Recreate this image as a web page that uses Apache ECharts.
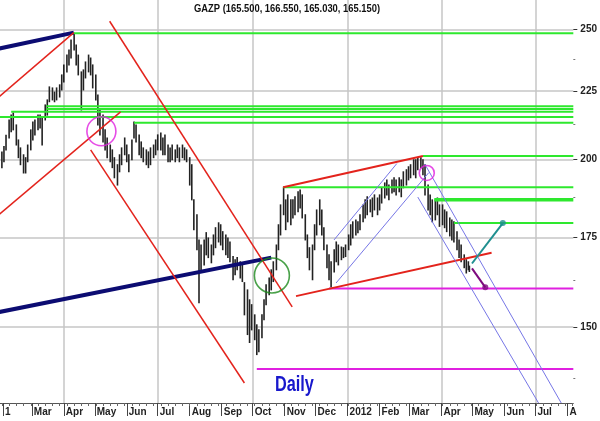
<!DOCTYPE html>
<html><head><meta charset="utf-8">
<script src="https://cdn.jsdelivr.net/npm/echarts@6/dist/echarts.min.js"></script>
<style>html,body{margin:0;padding:0;background:#fff}#c{width:600px;height:421px}</style>
</head><body><div id="c"></div>
<script>
// ---------------- DATA ----------------
const chartTitle = 'GAZP (165.500, 166.550, 165.030, 165.150)';
const chartNote = 'Daily';

const dates = [
'2011-01-31','2011-02-02','2011-02-04','2011-02-07','2011-02-09','2011-02-11','2011-02-14','2011-02-16','2011-02-18','2011-02-21',
'2011-02-23','2011-02-25','2011-02-28','2011-03-02','2011-03-04','2011-03-07','2011-03-09','2011-03-11','2011-03-14','2011-03-16',
'2011-03-18','2011-03-21','2011-03-23','2011-03-25','2011-03-28','2011-03-30','2011-04-01','2011-04-04','2011-04-06','2011-04-08',
'2011-04-11','2011-04-13','2011-04-15','2011-04-18','2011-04-20','2011-04-22','2011-04-25','2011-04-27','2011-04-29','2011-05-02',
'2011-05-04','2011-05-06','2011-05-09','2011-05-11','2011-05-13','2011-05-16','2011-05-18','2011-05-20','2011-05-23','2011-05-25',
'2011-05-27','2011-05-30','2011-06-01','2011-06-03','2011-06-06','2011-06-08','2011-06-10','2011-06-13','2011-06-15','2011-06-17',
'2011-06-20','2011-06-22','2011-06-24','2011-06-27','2011-06-29','2011-07-01','2011-07-04','2011-07-06','2011-07-08','2011-07-11',
'2011-07-13','2011-07-15','2011-07-18','2011-07-20','2011-07-22','2011-07-25','2011-07-27','2011-07-29','2011-08-01','2011-08-03',
'2011-08-05','2011-08-08','2011-08-10','2011-08-12','2011-08-15','2011-08-17','2011-08-19','2011-08-22','2011-08-24','2011-08-26',
'2011-08-29','2011-08-31','2011-09-02','2011-09-05','2011-09-07','2011-09-09','2011-09-12','2011-09-14','2011-09-16','2011-09-19',
'2011-09-21','2011-09-23','2011-09-26','2011-09-28','2011-09-30','2011-10-03','2011-10-05','2011-10-07','2011-10-10','2011-10-12',
'2011-10-14','2011-10-17','2011-10-19','2011-10-21','2011-10-24','2011-10-26','2011-10-28','2011-10-31','2011-11-02','2011-11-04',
'2011-11-07','2011-11-09','2011-11-11','2011-11-14','2011-11-16','2011-11-18','2011-11-21','2011-11-23','2011-11-25','2011-11-28',
'2011-11-30','2011-12-02','2011-12-05','2011-12-07','2011-12-09','2011-12-12','2011-12-14','2011-12-16','2011-12-19','2011-12-21',
'2011-12-23','2011-12-26','2011-12-28','2011-12-30','2012-01-02','2012-01-04','2012-01-06','2012-01-09','2012-01-11','2012-01-13',
'2012-01-16','2012-01-18','2012-01-20','2012-01-23','2012-01-25','2012-01-27','2012-01-30','2012-02-01','2012-02-03','2012-02-06',
'2012-02-08','2012-02-10','2012-02-13','2012-02-15','2012-02-17','2012-02-20','2012-02-22','2012-02-24','2012-02-27','2012-02-29',
'2012-03-02','2012-03-05','2012-03-07','2012-03-09','2012-03-12','2012-03-14','2012-03-16','2012-03-19','2012-03-21','2012-03-23',
'2012-03-26','2012-03-28','2012-03-30','2012-04-02','2012-04-04','2012-04-06','2012-04-09','2012-04-11','2012-04-13','2012-04-16',
'2012-04-18','2012-04-20','2012-04-23','2012-04-25','2012-04-27','2012-04-28'
];
const highs = [
202.6,204.5,208.5,214.0,215.8,216.6,212.2,206.8,204.0,201.6,
200.6,205.0,210.4,213.3,214.0,215.8,215.8,214.7,219.6,221.5,
226.5,226.1,224.5,226.1,227.3,231.2,235.2,239.2,241.3,245.5,
248.3,243.4,239.2,232.4,233.2,236.4,239.2,238.0,235.2,231.2,
223.4,217.7,215.8,210.4,207.5,205.0,203.3,200.6,198.2,201.6,
204.0,207.5,205.0,201.6,206.8,213.3,212.2,208.6,206.1,204.0,
203.3,202.6,204.0,205.0,206.8,208.6,209.3,207.5,208.6,205.0,
204.0,205.0,203.3,205.0,204.0,205.0,204.0,203.3,200.6,198.2,
186.6,181.9,174.2,172.7,174.2,176.4,174.8,172.7,175.7,177.9,
179.4,178.8,176.7,175.7,174.8,173.6,169.3,168.4,169.0,167.8,
166.9,161.9,159.9,157.2,155.9,153.2,150.6,149.3,153.2,157.2,
161.3,163.2,165.5,167.8,172.7,178.8,185.0,190.7,186.6,188.2,
186.6,186.6,187.6,189.2,189.8,188.2,181.9,175.7,171.9,172.7,
178.8,183.4,186.6,183.4,177.9,172.7,169.8,167.8,171.3,173.6,
172.7,172.1,171.9,172.7,175.7,178.8,179.7,180.3,179.7,181.9,
185.0,186.6,187.6,186.6,187.2,188.2,187.2,188.2,190.5,192.1,
193.1,191.4,193.1,193.8,193.1,193.8,193.1,195.8,196.5,197.5,
198.2,199.9,199.9,200.6,200.6,199.9,198.2,191.4,188.2,186.6,
186.6,187.2,185.0,185.0,183.4,182.8,180.9,180.3,179.7,176.7,
174.2,172.7,169.8,168.4,167.8,166.55
];
const lows = [
197.2,199.2,203.3,207.5,209.7,210.4,205.0,200.6,198.2,195.4,
195.4,199.2,203.3,206.8,208.6,210.4,211.1,205.0,214.0,215.8,
220.8,221.5,220.8,221.5,222.6,225.3,228.4,232.4,235.2,238.0,
241.3,235.2,231.2,217.7,225.3,230.0,232.4,231.2,226.1,221.5,
212.2,208.6,206.1,203.3,200.6,199.2,197.2,193.8,191.4,195.8,
198.2,201.6,199.2,195.8,199.9,207.5,206.1,201.6,200.6,199.2,
198.2,197.2,198.2,200.6,201.6,203.3,203.3,201.6,201.6,199.2,
199.2,199.9,199.2,200.6,199.2,200.6,199.9,199.2,191.4,186.6,
177.3,171.3,156.4,165.5,166.9,169.8,169.0,167.5,169.8,171.9,
173.6,172.7,171.3,169.8,169.0,167.8,162.7,164.1,165.5,163.2,
162.2,153.2,148.1,146.1,149.3,146.8,143.1,143.8,147.3,151.9,
155.9,158.6,159.9,162.2,165.5,171.3,175.7,181.9,177.3,179.7,
178.8,180.9,181.9,182.8,184.0,180.9,174.2,169.0,165.5,162.7,
171.3,175.7,178.8,175.7,171.3,166.1,162.7,160.7,164.9,167.8,
166.9,168.4,169.0,169.3,171.3,172.7,174.8,175.7,176.4,177.3,
179.7,180.9,181.9,182.8,181.3,183.4,181.9,183.4,185.6,187.2,
188.2,186.6,188.8,189.2,188.2,189.2,187.6,190.5,191.4,193.1,
193.8,194.8,193.8,196.5,197.2,194.8,188.2,183.4,181.9,179.7,
180.3,181.9,178.3,178.8,177.9,176.7,175.4,174.2,173.6,171.3,
169.0,167.8,166.1,164.6,165.5,165.03
];

// axis ticks and labels
const xRange = ['2011-01-29 04:00', '2012-08-06 17:00'];
const yRange = [131.7, 262.9];
const yTicks = [150, 175, 200, 225, 250];
const yMinorTicks = [137.5, 162.5, 187.5, 212.5, 237.5];
const monthTicks = ['2011-02-01','2011-03-01','2011-04-01','2011-05-01','2011-06-01','2011-07-01','2011-08-01','2011-09-01',
  '2011-10-01','2011-11-01','2011-12-01','2012-01-01','2012-02-01','2012-03-01','2012-04-01','2012-05-01','2012-06-01',
  '2012-07-01','2012-08-01'];
const monthLabels = ['1','Mar','Apr','May','Jun','Jul','Aug','Sep','Oct','Nov','Dec','2012','Feb','Mar','Apr','May','Jun','Jul','A'];
const gridTicks = ['2011-04-01','2011-07-01','2011-10-01','2012-01-01','2012-04-01','2012-07-01'];
const firstWeekTick = '2011-01-31';

// horizontal levels
const greenLevels = [248.3, 219.1, 218.1, 217.0, 215.1, 213.0, 201.2, 190.7, 186.6, 179.3];
const greenStarts = ['2011-04-10 16:00','2011-03-15','2011-03-15','2011-02-09','2011-01-29','2011-06-08','2012-03-14','2011-10-30 14:00','2012-03-25','2012-04-13'];
const magentaLevels = [160.3, 139.6];
const magentaStarts = ['2011-12-14', '2011-10-05'];

// trend lines: [startDate, startPrice, endDate, endPrice]
const navyLines = [
  ['2010-12-31', 239.3, '2011-04-10 16:00', 248.6],
  ['2010-12-31', 152.4, '2011-10-19', 169.0]
];
const redLines = [
  ['2010-12-31', 213.3, '2011-04-10 16:00', 248.6],
  ['2010-12-31', 174.4, '2011-05-26', 217.0],
  ['2011-05-15 10:00', 253.5, '2011-11-08 07:00', 155.3],
  ['2011-04-27', 203.3, '2011-09-23', 136.3],
  ['2011-10-30 14:00', 190.7, '2012-03-14', 201.2],
  ['2011-11-12', 158.2, '2012-05-19 12:00', 170.4]
];
const blueLines = [
  ['2011-12-18 20:00', 174.2, '2012-02-17 17:00', 198.6],
  ['2011-12-20 20:00', 161.8, '2012-03-19 14:00', 195.5],
  ['2012-03-09', 187.5, '2012-07-04', 131.7],
  ['2012-03-15 19:00', 198.4, '2012-07-26', 131.7]
];
const upProjection = ['2012-04-30 12:00', 167.3, '2012-05-30 10:00', 179.3];
const downProjection = ['2012-04-30 12:00', 165.9, '2012-05-13 10:00', 160.6];

// highlight circles: centre date, centre price
const circleDates = ['2011-05-07 10:00', '2012-03-17 17:00', '2011-10-19 15:00'];
const circlePrices = [209.9, 195.4, 163.9];

// ---------------- BUILD ----------------
const T = s => +echarts.time.parse(s);
const L = p => Math.log(p);
const xMin = T(xRange[0]), xMax = T(xRange[1]);
const FONT = "'Liberation Sans',Arial,sans-serif";

const weekTicks = [];
for (let t = T(firstWeekTick); t <= xMax; t += 7 * 86400000) weekTicks.push(t);
const monthVals = monthTicks.map(T);

function seg(l) { return [[T(l[0]), L(l[1])], [T(l[2]), L(l[3])]]; }
function lineSeries(data, color, width, z) {
  return { type: 'line', data: data, showSymbol: false, symbol: 'none', silent: true, z: z || 3,
    lineStyle: { color: color, width: width }, animation: false };
}

const series = [];
series.push({
  type: 'custom', silent: true, z: 2, animation: false,
  data: dates.map((d, i) => [T(d), L(lows[i]), L(highs[i])]),
  encode: { x: 0, y: [1, 2] },
  renderItem: function (params, api) {
    const a = api.coord([api.value(0), api.value(1)]);
    const b = api.coord([api.value(0), api.value(2)]);
    return { type: 'line', shape: { x1: a[0], y1: a[1] + 0.5, x2: b[0], y2: b[1] - 0.5 },
      style: { stroke: '#222222', lineWidth: 1.6 } };
  }
});
greenLevels.forEach((p, i) => {
  series.push(lineSeries([[T(greenStarts[i]), L(p)], [xMax, L(p)]], '#2ee82e', p === 186.6 ? 3.5 : 2, 4));
});
magentaLevels.forEach((p, i) => {
  series.push(lineSeries([[T(magentaStarts[i]), L(p)], [xMax, L(p)]], '#e020e0', 2, 4));
});
navyLines.forEach(l => series.push(lineSeries(seg(l), '#0c0c72', 4, 5)));
redLines.forEach((l, i) => series.push(lineSeries(seg(l), '#e3231c', i >= 4 ? 2 : 1.5, 5)));
blueLines.forEach(l => series.push(lineSeries(seg(l), '#7676e6', 1, 5)));
series.push(lineSeries(seg(upProjection), '#1f8f8f', 2, 6));
series.push(lineSeries(seg(downProjection), '#7d0a7d', 2, 6));
series.push({ type: 'scatter', silent: true, z: 7, animation: false, symbol: 'circle', symbolSize: 6,
  data: [[T(upProjection[2]), L(upProjection[3])]], itemStyle: { color: '#1f8f8f' } });
series.push({ type: 'scatter', silent: true, z: 7, animation: false, symbol: 'circle', symbolSize: 6,
  data: [[T(downProjection[2]), L(downProjection[3])]], itemStyle: { color: '#7d0a7d' } });
const circleStyles = [
  { size: 29, color: '#e020e0' },
  { size: 15, color: '#e020e0' },
  { size: 35, color: '#1c8a1c' }
];
circleDates.forEach((d, i) => {
  series.push({ type: 'scatter', silent: true, z: 7, animation: false, symbol: 'circle',
    symbolSize: circleStyles[i].size, data: [[T(d), L(circlePrices[i])]],
    itemStyle: { color: 'rgba(0,0,0,0)', borderColor: circleStyles[i].color, borderWidth: 1.6 } });
});

const baseX = { type: 'value', min: xMin, max: xMax, position: 'bottom' };
const baseY = { type: 'value', min: L(yRange[0]), max: L(yRange[1]), position: 'right' };

const option = {
  animation: false,
  backgroundColor: '#ffffff',
  grid: { left: 0, right: 25, top: 0, bottom: 18, containLabel: false },
  graphic: [
    { type: 'text', x: 194, y: 3, scaleX: 0.815, silent: true, z: 10,
      style: { text: chartTitle, fontFamily: FONT, fontSize: 11.5, fontWeight: 'bold', fill: '#111',
        textVerticalAlign: 'top', verticalAlign: 'top' } },
    { type: 'text', x: 275, y: 374, scaleX: 0.74, silent: true, z: 10,
      style: { text: chartNote, fontFamily: FONT, fontSize: 22, fontWeight: 'bold', fill: '#1818cc',
        textVerticalAlign: 'top', verticalAlign: 'top' } }
  ],
  xAxis: [
    Object.assign({}, baseX, {
      axisLine: { show: true, lineStyle: { color: '#555', width: 1 } },
      axisTick: { show: false, customValues: gridTicks.map(T) },
      axisLabel: { show: false },
      splitLine: { show: true, lineStyle: { color: '#c6c6c6', width: 1.5 } }
    }),
    Object.assign({}, baseX, {
      axisLine: { show: false },
      axisTick: { show: true, customValues: monthVals, length: 13, lineStyle: { color: '#444', width: 1 } },
      axisLabel: { show: true, customValues: monthVals, align: 'left', margin: 4, padding: [0, 0, 0, 2],
        fontFamily: FONT, fontSize: 10, fontWeight: 'bold', color: '#222',
        formatter: v => { const i = monthVals.indexOf(v); return i >= 0 ? monthLabels[i] : ''; } },
      splitLine: { show: false }
    }),
    Object.assign({}, baseX, {
      axisLine: { show: false },
      axisTick: { show: true, customValues: weekTicks, length: 3, lineStyle: { color: '#666', width: 1 } },
      axisLabel: { show: false },
      splitLine: { show: false }
    })
  ],
  yAxis: [
    Object.assign({}, baseY, {
      axisLine: { show: false },
      axisTick: { show: true, customValues: yTicks.map(L), length: 4, lineStyle: { color: '#333' } },
      axisLabel: { show: true, customValues: yTicks.map(L), margin: 7,
        fontFamily: FONT, fontSize: 10, fontWeight: 'bold', color: '#222',
        formatter: v => String(Math.round(Math.exp(v))) },
      splitLine: { show: true, lineStyle: { color: '#c6c6c6', width: 1.5 } }
    }),
    Object.assign({}, baseY, {
      axisLine: { show: false },
      axisTick: { show: true, customValues: yMinorTicks.map(L), length: 2, lineStyle: { color: '#777' } },
      axisLabel: { show: false },
      splitLine: { show: false }
    })
  ],
  series: series
};
const chart = echarts.init(document.getElementById('c'), null, { renderer: 'canvas' });
chart.setOption(option);
</script>
</body></html>
